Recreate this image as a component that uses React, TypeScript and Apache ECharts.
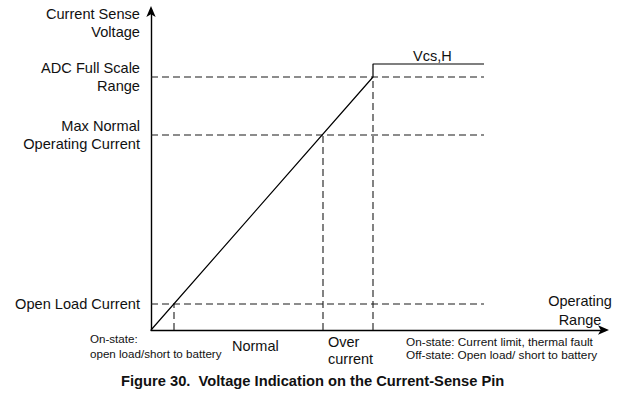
import React, { useEffect, useRef } from "react";
import * as echarts from "echarts";

// Thresholds (abstract units)
const levelNames = ["Open Load Current", "Max Normal\nOperating Current", "ADC Full Scale\nRange"];
const levelCurrent = [23, 172, 222];
const levelVoltage = [26, 195, 253];
const yTitleValue = 307;
const yTitle = "Current Sense\nVoltage";
const vcsH = 266;
const rangeEnd = 333;
const responseX = [0, 222, 222, 333];
const responseY = [0, 253, 266, 266];
const xMax = 454;
const yMax = 320;

const FONT = "'Liberation Sans', Arial, sans-serif";

export default function App() {
  const ref = useRef<HTMLDivElement>(null);
  useEffect(() => {
    if (!ref.current) return;
    const chart = echarts.init(ref.current, null, { renderer: "svg" });
    const labelMap: Record<number, string> = { [yTitleValue]: yTitle };
    levelVoltage.forEach((v, i) => (labelMap[v] = levelNames[i]));
    const dashStyle = { color: "#1a1a1a", width: 1.1, type: [7, 4] as number[] };
    const series: any[] = [];
    // horizontal dashed lines
    levelVoltage.forEach((v) => {
      series.push({
        type: "line",
        data: [[0, v], [rangeEnd, v]],
        symbol: "none",
        lineStyle: dashStyle,
        silent: true,
      });
    });
    // vertical dashed lines
    levelCurrent.forEach((c, i) => {
      series.push({
        type: "line",
        data: [[c, 0], [c, levelVoltage[i]]],
        symbol: "none",
        lineStyle: dashStyle,
        silent: true,
      });
    });
    // response curve
    series.push({
      type: "line",
      data: responseX.map((x, i) => [x, responseY[i]]),
      symbol: "none",
      lineStyle: { color: "#000", width: 1.2 },
      silent: true,
      z: 5,
    });
    chart.setOption({
      animation: false,
      grid: { left: 151, right: 13, top: 10, bottom: 66 },
      xAxis: {
        type: "value",
        min: 0,
        max: xMax,
        axisLine: { show: true, lineStyle: { color: "#000", width: 1.4 }, symbol: ["none", "arrow"], symbolSize: [7, 11], symbolOffset: [0, 4] },
        axisTick: { show: false },
        axisLabel: { show: false },
        splitLine: { show: false },
      },
      yAxis: {
        type: "value",
        min: 0,
        max: yMax,
        axisLine: { show: true, lineStyle: { color: "#000", width: 1.4 }, symbol: ["none", "arrow"], symbolSize: [7, 11], symbolOffset: [0, 4] },
        axisTick: { show: false },
        splitLine: { show: false },
        axisLabel: {
          show: true,
          customValues: [levelVoltage[0], levelVoltage[1], levelVoltage[2], yTitleValue],
          formatter: (v: number) => labelMap[v] ?? "",
          color: "#111",
          fontFamily: FONT,
          fontSize: 14.6,
          lineHeight: 18,
          align: "right",
          margin: 11,
        },
      },
      series,
      graphic: [
        { type: "text", left: 413, top: 48, style: { text: "Vcs,H", font: `14.5px ${FONT}`, fill: "#111" } },
        { type: "text", x: 580, y: 291, style: { text: "Operating\nRange", font: `14.5px ${FONT}`, fill: "#111", align: "center", lineHeight: 19 } },
        { type: "text", left: 232, top: 338, style: { text: "Normal", font: `14.5px ${FONT}`, fill: "#111" } },
        { type: "text", left: 328, top: 333, style: { text: "Over\ncurrent", font: `14.5px ${FONT}`, fill: "#111", align: "center", lineHeight: 17 } },
        { type: "text", left: 90, top: 331, style: { text: "On-state:\nopen load/short to battery", font: `11.6px ${FONT}`, fill: "#111", lineHeight: 15 } },
        { type: "text", left: 406, top: 335, style: { text: "On-state: Current limit, thermal fault\nOff-state: Open load/ short to battery", font: `11.8px ${FONT}`, fill: "#111", lineHeight: 13.5 } },
        { type: "text", left: 121, top: 373, style: { text: "Figure 30.  Voltage Indication on the Current-Sense Pin", font: `bold 14.7px ${FONT}`, fill: "#111" } },
      ],
    });
    return () => chart.dispose();
  }, []);
  return <div ref={ref} style={{ position: "fixed", left: 0, top: 0, width: 618, height: 396, background: "#fff" }} />;
}
